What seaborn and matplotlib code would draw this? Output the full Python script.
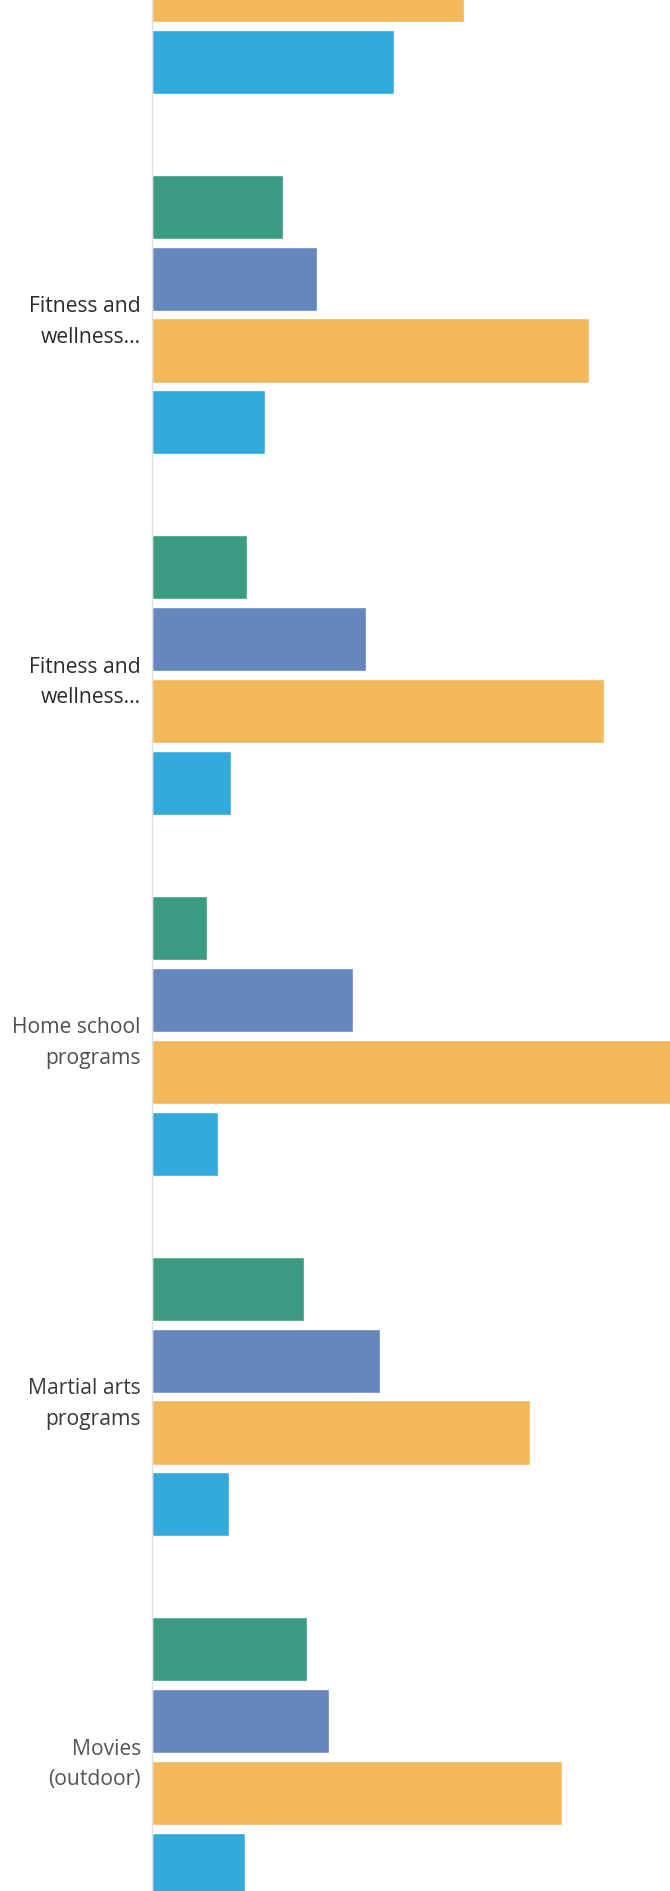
import numpy as np
import pandas as pd
import matplotlib
matplotlib.use("Agg")
import matplotlib.pyplot as plt
import seaborn as sns

# categories (first group is cut off at the top of the picture)
categories = ["cat0", "cat1", "cat2", "cat3", "cat4", "cat5"]
tick_labels = ["", "Fitness and\nwellness...", "Fitness and\nwellness...",
               "Home school\nprograms", "Martial arts\nprograms", "Movies\n(outdoor)"]
label_colors = ["#2b2b2b", "#2b2b2b", "#2b2b2b", "#505050", "#3a3a3a", "#555555"]

series = ["A", "B", "C", "D"]
# values (nan = not visible in the crop)
vals_a = [np.nan, 13.1, 9.5, 5.5, 15.2, 15.5]
vals_b = [np.nan, 16.5, 21.4, 20.1, 22.8, 17.7]
vals_c = [31.2, 43.7, 45.2, 55.0, 37.8, 41.0]
vals_d = [24.2, 11.3, 7.9, 6.6, 7.7, 9.3]

colors = ["#3a9b82", "#6686be", "#f3b85a", "#32aadc"]

rows = []
for s, vals in zip(series, [vals_a, vals_b, vals_c, vals_d]):
    for c, v in zip(categories, vals):
        rows.append({"category": c, "series": s, "value": v})
df = pd.DataFrame(rows)

sns.set_style("white")
plt.rcParams['font.family'] = ['Open Sans', 'DejaVu Sans']

fig = plt.figure(figsize=(6.7, 18.91), dpi=100)
ax = fig.add_axes([152 / 670, 0, 1 - 152 / 670, 1])

sns.barplot(data=df, y="category", x="value", hue="series", order=categories,
            hue_order=series, palette=colors, orient="h", width=0.798, gap=0.11,
            saturation=1, legend=False, ax=ax, errorbar=None)

ax.set_xlabel("")
ax.set_ylabel("")
ax.set_xticks([])
ax.set_yticks(range(len(categories)))
ax.set_yticklabels(tick_labels, fontsize=15.2, linespacing=1.6)
for t, col in zip(ax.get_yticklabels(), label_colors):
    t.set_color(col)
ax.tick_params(axis="y", length=0, pad=8)
# limits after the ticks, otherwise set_yticks widens them again
ax.set_xlim(0, 51.8)
ax.set_ylim(5.371, 0.128)

for side in ["top", "right", "bottom"]:
    ax.spines[side].set_visible(False)
ax.spines["left"].set_color("#e0e0e0")
ax.spines["left"].set_linewidth(1)

fig.savefig("out.png", dpi=100)
